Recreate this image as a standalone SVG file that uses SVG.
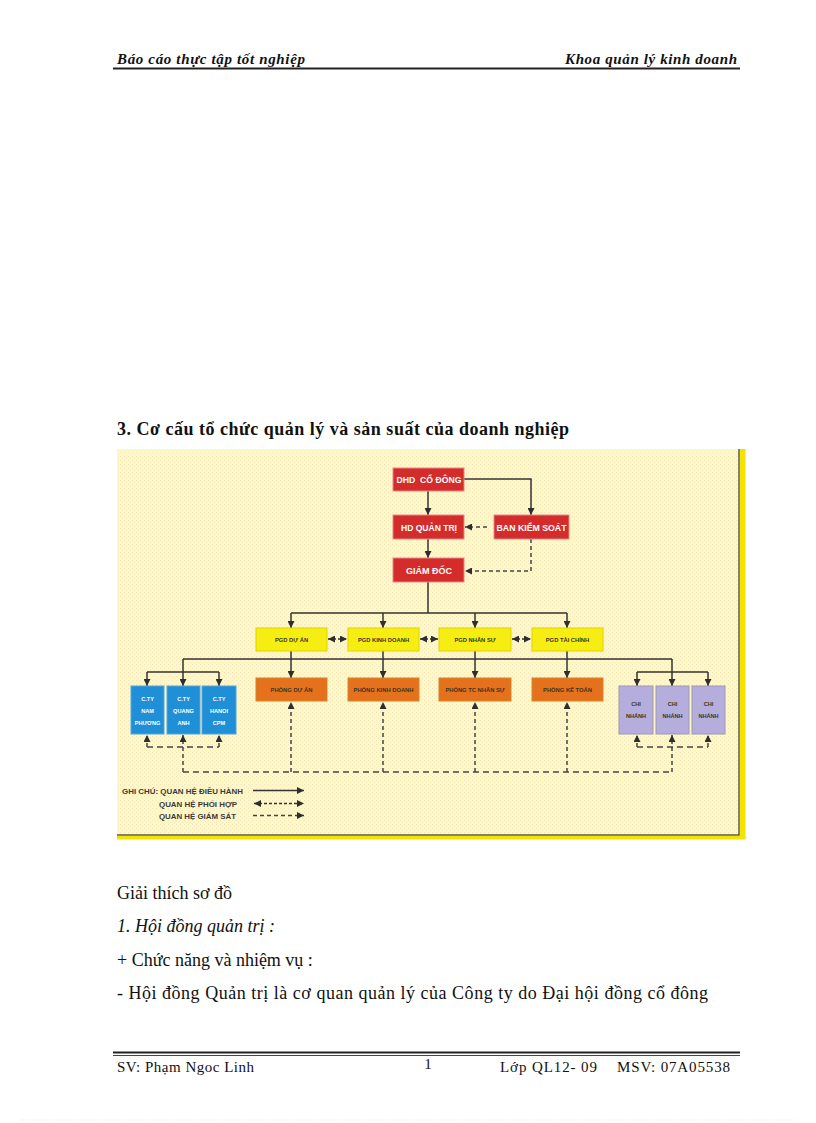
<svg xmlns="http://www.w3.org/2000/svg" width="816" height="1123" viewBox="0 0 816 1123">
<defs>
<pattern id="dots" width="4" height="4" patternUnits="userSpaceOnUse">
<rect width="4" height="4" fill="#fef8c2"/>
<rect x="0" y="0" width="1" height="1" fill="#f6e3c6"/>
<rect x="2" y="2" width="1" height="1" fill="#f3edbc"/>
</pattern>
<marker id="ah" viewBox="0 0 8 8" refX="8" refY="4" markerWidth="7" markerHeight="7" markerUnits="userSpaceOnUse" orient="auto-start-reverse">
<path d="M0,0 L8,4 L0,8 z" fill="#2e2e2e"/>
</marker>
</defs>
<style>
.hdr{font-family:"Liberation Serif","Times New Roman",serif;font-size:15px;font-style:italic;font-weight:bold;fill:#111}
.body{font-family:"Liberation Serif","Times New Roman",serif;font-size:18px;fill:#111}
.ftr{font-family:"Liberation Serif","Times New Roman",serif;font-size:15px;fill:#111}
.red{fill:#d42b2b;stroke:#e88a8a;stroke-width:1}
.yel{fill:#f6ee12;stroke:#e0d200;stroke-width:1}
.org{fill:#e6711c;stroke:#d0862e;stroke-width:1}
.blu{fill:#1f8fd8;stroke:#52a6d6;stroke-width:1}
.pur{fill:#b5aedc;stroke:#9c98b6;stroke-width:1}
.tw{font-family:"Liberation Sans",Arial,sans-serif;font-weight:bold;fill:#ffffff;text-anchor:middle}
.td{font-family:"Liberation Sans",Arial,sans-serif;font-weight:bold;fill:#3b3520;text-anchor:middle}
.c{fill:none;stroke:#333;stroke-width:1.5}
.cs{fill:none;stroke:#333;stroke-width:1.5;marker-end:url(#ah)}
.gs{fill:none;stroke:#444;stroke-width:1.5;stroke-dasharray:6 4}
.gsa{fill:none;stroke:#444;stroke-width:1.5;stroke-dasharray:4 3;marker-end:url(#ah)}
.ph{fill:none;stroke:#333;stroke-width:1.5;stroke-dasharray:3 2;marker-start:url(#ah);marker-end:url(#ah)}
.lg{font-family:"Liberation Sans",Arial,sans-serif;font-weight:bold;font-size:7px;fill:#3a3a3a}
</style>
<rect width="816" height="1123" fill="#ffffff"/>

<!-- header -->
<text class="hdr" x="117" y="64" textLength="188">Báo cáo thực tập tốt nghiệp</text>
<text class="hdr" x="737" y="64" text-anchor="end" textLength="172">Khoa quản lý kinh doanh</text>
<line x1="113" y1="68.5" x2="740" y2="68.5" stroke="#222" stroke-width="2"/>

<text class="body" x="117" y="435" font-weight="bold" textLength="452">3. Cơ cấu tổ chức quản lý và sản suất của doanh nghiệp</text>

<!-- diagram background -->
<rect x="117" y="449" width="622" height="386" fill="url(#dots)"/>
<rect x="740" y="449" width="5.5" height="390" fill="#f3e400"/>
<rect x="117" y="836" width="628.5" height="3.5" fill="#f3e400"/>
<path d="M739,449 V835 H117" fill="none" stroke="#5a5a4a" stroke-width="1.5"/>

<!-- connectors -->
<g id="connectors">
<path class="cs" d="M428,491 V515"/>
<path class="cs" d="M464,479 H531 V515"/>
<path class="gsa" d="M487,527 H465"/>
<path class="cs" d="M428,539 V558"/>
<path class="gsa" d="M531,539 V571 H465"/>
<path class="c" d="M428,582 V613 M291,613 H567"/>
<path class="cs" d="M291,613 V628"/>
<path class="cs" d="M383,613 V628"/>
<path class="cs" d="M475,613 V628"/>
<path class="cs" d="M567,613 V628"/>
<path class="ph" d="M328,639 H347"/>
<path class="ph" d="M420,639 H438"/>
<path class="ph" d="M512,639 H531"/>
<path class="c" d="M183,659 H672"/>
<path class="cs" d="M291,651 V678"/>
<path class="cs" d="M383,651 V678"/>
<path class="cs" d="M475,651 V678"/>
<path class="cs" d="M567,651 V678"/>
<path class="cs" d="M183,659 V686"/>
<path class="c" d="M147,672 H219"/>
<path class="cs" d="M147,672 V686"/>
<path class="cs" d="M219,672 V686"/>
<path class="cs" d="M672,659 V686"/>
<path class="c" d="M637,672 H708"/>
<path class="cs" d="M637,672 V686"/>
<path class="cs" d="M708,672 V686"/>
<!-- supervision dashed -->
<path class="gs" d="M147,747 H219"/>
<path class="gsa" d="M147,747 V735"/>
<path class="gsa" d="M219,747 V735"/>
<path class="gsa" d="M183,772 V735"/>
<path class="gs" d="M183,772 H672"/>
<path class="gsa" d="M291,772 V702"/>
<path class="gsa" d="M383,772 V702"/>
<path class="gsa" d="M475,772 V702"/>
<path class="gsa" d="M567,772 V702"/>
<path class="gsa" d="M672,772 V735"/>
<path class="gs" d="M637,747 H708"/>
<path class="gsa" d="M637,747 V735"/>
<path class="gsa" d="M708,747 V735"/>
</g>

<!-- nodes -->
<g id="n-dhd"><rect class="red" x="393" y="468" width="71" height="23"/><text class="tw" x="429" y="483" font-size="9" xml:space="preserve" textLength="65" lengthAdjust="spacingAndGlyphs">DHD  CỔ ĐÔNG</text></g>
<g id="n-hdqt"><rect class="red" x="393" y="515" width="71" height="24"/><text class="tw" x="429" y="530.5" font-size="9" textLength="56" lengthAdjust="spacingAndGlyphs">HD QUẢN TRỊ</text></g>
<g id="n-bks"><rect class="red" x="494" y="515" width="75" height="24"/><text class="tw" x="531.5" y="530.5" font-size="9" textLength="70" lengthAdjust="spacingAndGlyphs">BAN KIỂM SOÁT</text></g>
<g id="n-gd"><rect class="red" x="393" y="558" width="71" height="24"/><text class="tw" x="429" y="573.5" font-size="9" textLength="46" lengthAdjust="spacingAndGlyphs">GIÁM ĐỐC</text></g>

<g id="n-pgd-da"><rect class="yel" x="256" y="628" width="71" height="23"/><text class="td" x="291.5" y="641.5" font-size="5.8">PGD DỰ ÁN</text></g>
<g id="n-pgd-kd"><rect class="yel" x="348" y="628" width="71" height="23"/><text class="td" x="383.5" y="641.5" font-size="5.8">PGD KINH DOANH</text></g>
<g id="n-pgd-ns"><rect class="yel" x="439" y="628" width="72" height="23"/><text class="td" x="475" y="641.5" font-size="5.8">PGD NHÂN SỰ</text></g>
<g id="n-pgd-tc"><rect class="yel" x="532" y="628" width="71" height="23"/><text class="td" x="567.5" y="641.5" font-size="5.8">PGD TÀI CHÍNH</text></g>

<g id="n-p-da"><rect class="org" x="256" y="678" width="71" height="23"/><text class="td" x="291.5" y="691.5" font-size="5.8">PHÒNG DỰ ÁN</text></g>
<g id="n-p-kd"><rect class="org" x="348" y="678" width="71" height="23"/><text class="td" x="383.5" y="691.5" font-size="5.8">PHÒNG KINH DOANH</text></g>
<g id="n-p-ns"><rect class="org" x="439" y="678" width="72" height="23"/><text class="td" x="475" y="691.5" font-size="5.8">PHÒNG TC NHÂN SỰ</text></g>
<g id="n-p-kt"><rect class="org" x="532" y="678" width="71" height="23"/><text class="td" x="567.5" y="691.5" font-size="5.8">PHÒNG KẾ TOÁN</text></g>

<g id="n-ct-np"><rect class="blu" x="131" y="686" width="33" height="48"/><text class="tw" x="147.5" font-size="5.6"><tspan x="147.5" y="701">C.TY</tspan><tspan x="147.5" y="713">NAM</tspan><tspan x="147.5" y="724.5">PHƯƠNG</tspan></text></g>
<g id="n-ct-qa"><rect class="blu" x="167" y="686" width="33" height="48"/><text class="tw" x="183.5" font-size="5.6"><tspan x="183.5" y="701">C.TY</tspan><tspan x="183.5" y="713">QUANG</tspan><tspan x="183.5" y="724.5">ANH</tspan></text></g>
<g id="n-ct-hn"><rect class="blu" x="202" y="686" width="34" height="48"/><text class="tw" x="219" font-size="5.6"><tspan x="219" y="701">C.TY</tspan><tspan x="219" y="713">HANOI</tspan><tspan x="219" y="724.5">CPM</tspan></text></g>

<g id="n-cn1"><rect class="pur" x="619" y="686" width="34" height="48"/><text class="td" x="636" font-size="5.6"><tspan x="636" y="706">CHI</tspan><tspan x="636" y="718">NHÁNH</tspan></text></g>
<g id="n-cn2"><rect class="pur" x="656" y="686" width="33" height="48"/><text class="td" x="672.5" font-size="5.6"><tspan x="672.5" y="706">CHI</tspan><tspan x="672.5" y="718">NHÁNH</tspan></text></g>
<g id="n-cn3"><rect class="pur" x="692" y="686" width="33" height="48"/><text class="td" x="708.5" font-size="5.6"><tspan x="708.5" y="706">CHI</tspan><tspan x="708.5" y="718">NHÁNH</tspan></text></g>

<!-- legend -->
<g id="legend">
<text class="lg" x="122" y="794" textLength="121" lengthAdjust="spacingAndGlyphs">GHI CHÚ: QUAN HỆ ĐIỀU HÀNH</text>
<text class="lg" x="159" y="806.5" textLength="78" lengthAdjust="spacingAndGlyphs">QUAN HỆ PHỐI HỢP</text>
<text class="lg" x="159" y="818.5" textLength="77" lengthAdjust="spacingAndGlyphs">QUAN HỆ GIÁM SÁT</text>
<path class="cs" d="M253,790.5 H304" stroke-width="1.2"/>
<path class="ph" d="M254,803.5 H304" stroke-width="1.2"/>
<path class="gsa" d="M253,815.5 H304" stroke-dasharray="6 5" stroke-width="1.2"/>
</g>

<!-- body text -->
<text class="body" x="117" y="899">Giải thích sơ đồ</text>
<text class="body" x="117" y="932" font-style="italic">1. Hội đồng quản trị :</text>
<text class="body" x="117" y="966">+ Chức năng và nhiệm vụ :</text>
<text class="body" x="117" y="999" textLength="591">- Hội đồng Quản trị là cơ quan quản lý của Công ty do Đại hội đồng cổ đông</text>

<!-- footer -->
<line x1="113" y1="1052.5" x2="740" y2="1052.5" stroke="#222" stroke-width="2"/>
<line x1="113" y1="1055.5" x2="740" y2="1055.5" stroke="#444" stroke-width="1"/>
<text class="ftr" x="117" y="1072" textLength="137">SV: Phạm  Ngoc Linh</text>
<text class="ftr" x="428" y="1069" text-anchor="middle">1</text>
<text class="ftr" x="500" y="1072" textLength="97">Lớp QL12- 09</text>
<text class="ftr" x="617" y="1072" textLength="113">MSV: 07A05538</text>
<line x1="20" y1="1120" x2="796" y2="1120" stroke="#e6e6e6" stroke-width="1" stroke-dasharray="1 2"/>
</svg>
